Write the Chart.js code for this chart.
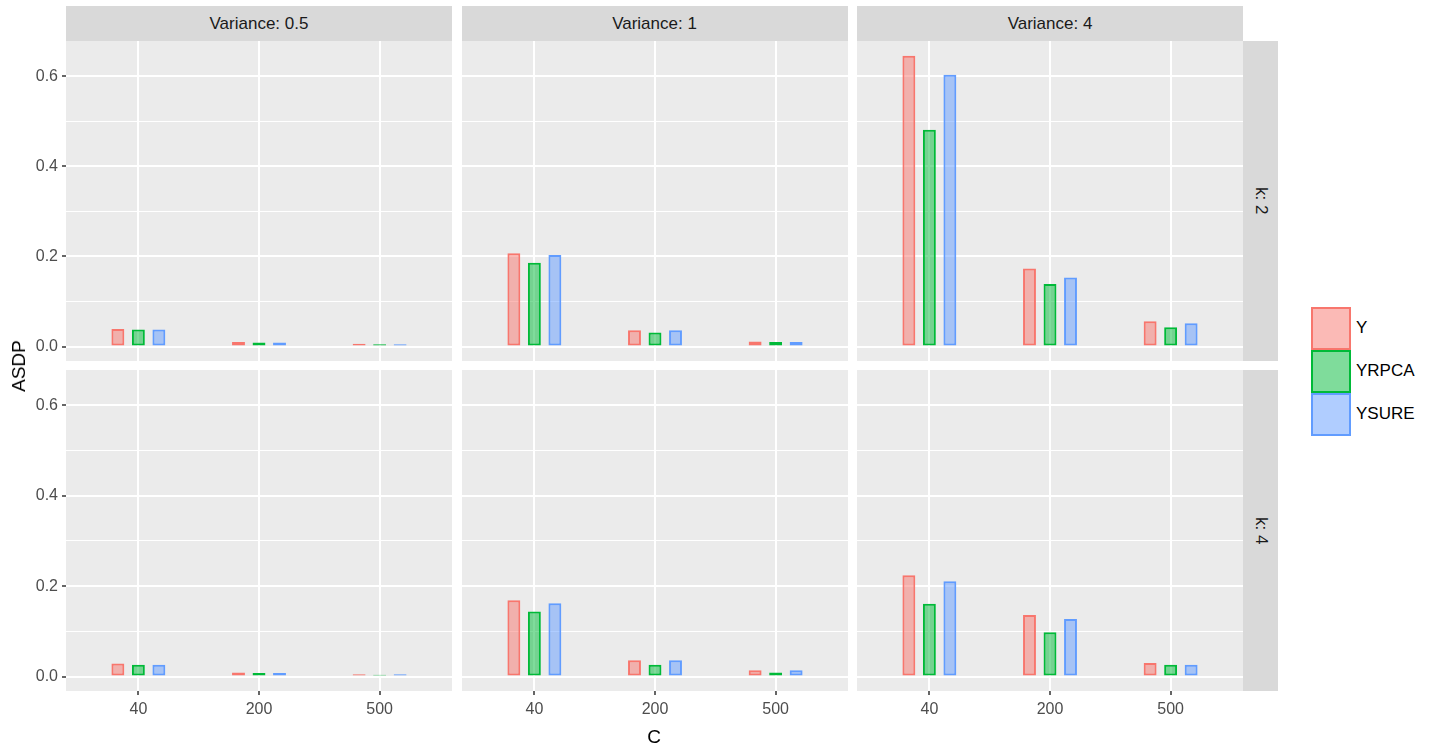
<!DOCTYPE html>
<html>
<head>
<meta charset="utf-8">
<script src="https://cdn.jsdelivr.net/npm/chart.js@4.4.1/dist/chart.umd.min.js"></script>
<style>
  body { margin: 0; background: #fff; font-family: "Liberation Sans", Arial, sans-serif; }
  #wrap { position: relative; width: 1431px; height: 747px; overflow: hidden; background: #fff; }
  canvas { position: absolute; }
  .strip { position: absolute; background: #D9D9D9; color: #1A1A1A; font-size: 17px;
           display: flex; align-items: center; justify-content: center; }
  .strip.right span { writing-mode: vertical-rl; }
  .title { position: absolute; color: #000; font-size: 19px; }
  .key { position: absolute; left: 1311px; width: 36px; height: 39px; border: 2px solid; }
  .klab { position: absolute; left: 1356px; font-size: 17px; color: #000; line-height: 20px; }
</style>
</head>
<body>
<div id="wrap"></div>
<script>
const categories  = ['40', '200', '500'];
const variances   = ['Variance: 0.5', 'Variance: 1', 'Variance: 4'];
const kLabels     = ['k: 2', 'k: 4'];
const seriesNames = ['Y', 'YRPCA', 'YSURE'];
const yTicks      = [0, 0.1, 0.2, 0.3, 0.4, 0.5, 0.6];

// ASDP, one inner array per variance panel, values for C = 40 / 200 / 500
const yK2     = [[0.039, 0.010, 0.006], [0.207, 0.036, 0.011], [0.645, 0.173, 0.056]];
const yrpcaK2 = [[0.038, 0.009, 0.005], [0.186, 0.031, 0.010], [0.481, 0.139, 0.043]];
const ysureK2 = [[0.038, 0.009, 0.005], [0.203, 0.036, 0.010], [0.603, 0.153, 0.052]];
const yK4     = [[0.029, 0.009, 0.005], [0.169, 0.036, 0.014], [0.224, 0.136, 0.030]];
const yrpcaK4 = [[0.026, 0.008, 0.004], [0.144, 0.026, 0.009], [0.161, 0.098, 0.026]];
const ysureK4 = [[0.026, 0.008, 0.005], [0.162, 0.036, 0.014], [0.211, 0.127, 0.026]];

const lineCols = ['#F8766D', '#00BA38', '#619CFF'];
const fillCols = ['rgba(248,118,109,0.5)', 'rgba(0,186,56,0.5)', 'rgba(97,156,255,0.5)'];

// panel geometry (px)
const COLX = [66, 461.5, 857];
const PW   = 386;
const ROWY = [41, 370];
const PH   = [320, 321];

const wrap = document.getElementById('wrap');

const panelBg = {
  id: 'panelBg',
  beforeDraw(chart) {
    const a = chart.chartArea, c = chart.ctx;
    c.save();
    c.fillStyle = '#EBEBEB';
    c.fillRect(a.left, a.top, a.right - a.left, a.bottom - a.top);
    c.restore();
  }
};

const isMajor = v => Math.round(v * 10) % 2 === 0;

// keep chart area exactly on the panel: no label overhang padding
function noPad(s) {
  s.paddingTop = 0; s.paddingBottom = 0;
  s.paddingLeft = 0; s.paddingRight = 0;
}

function makePanel(row, col) {
  const left = col === 0, bottom = row === 1;
  const padL = left ? 56 : 0, padB = bottom ? 40 : 0;
  const w = PW + padL, h = PH[row] + padB;
  const cv = document.createElement('canvas');
  cv.width = w; cv.height = h;
  cv.style.left = (COLX[col] - padL) + 'px';
  cv.style.top = ROWY[row] + 'px';
  cv.style.width = w + 'px'; cv.style.height = h + 'px';
  wrap.appendChild(cv);

  const src = row === 0 ? [yK2, yrpcaK2, ysureK2] : [yK4, yrpcaK4, ysureK4];

  new Chart(cv, {
    type: 'bar',
    data: {
      datasets: src.map((arr, s) => ({
        label: seriesNames[s],
        data: arr[col].map((v, i) => ({ x: i + 1, y: v })),
        backgroundColor: fillCols[s],
        borderColor: lineCols[s],
        borderWidth: 2,
        borderSkipped: false,
        categoryPercentage: 0.51,
        barPercentage: 0.63
      }))
    },
    options: {
      responsive: false,
      animation: false,
      devicePixelRatio: 1,
      layout: { padding: 0 },
      plugins: { legend: { display: false }, tooltip: { enabled: false } },
      scales: {
        x: {
          type: 'linear', min: 0.4, max: 3.6, offset: false,
          afterBuildTicks: s => { s.ticks = categories.map((c, i) => ({ value: i + 1 })); },
          afterFit: s => { s.height = padB; noPad(s); },
          border: { display: false },
          grid: { color: '#FFFFFF', lineWidth: 2, offset: false,
                  drawTicks: bottom, tickLength: 4, tickColor: '#333333', tickWidth: 1.5 },
          ticks: { display: bottom, padding: 5, color: '#4D4D4D', maxRotation: 0,
                   font: { family: '"Liberation Sans", Arial, sans-serif', size: 16 },
                   callback: v => categories[Math.round(v) - 1] }
        },
        y: {
          type: 'linear', min: -0.032, max: 0.678,
          afterBuildTicks: s => { s.ticks = yTicks.map(v => ({ value: v })); },
          afterFit: s => { s.width = padL; noPad(s); },
          border: { display: false },
          grid: { color: '#FFFFFF',
                  lineWidth: c => isMajor(c.tick.value) ? 2 : 1.1,
                  drawTicks: left, tickLength: 4, tickWidth: 1.5,
                  tickColor: c => isMajor(c.tick.value) ? '#333333' : 'rgba(0,0,0,0)' },
          ticks: { display: left, padding: 4, color: '#4D4D4D',
                   font: { family: '"Liberation Sans", Arial, sans-serif', size: 16 },
                   callback: v => isMajor(v) ? v.toFixed(1) : '' }
        }
      }
    },
    plugins: [panelBg]
  });
}

for (let r = 0; r < 2; r++) for (let c = 0; c < 3; c++) makePanel(r, c);

// strips
variances.forEach((t, c) => {
  const d = document.createElement('div');
  d.className = 'strip';
  Object.assign(d.style, { left: COLX[c] + 'px', top: '6px', width: PW + 'px', height: '35px' });
  d.textContent = t;
  wrap.appendChild(d);
});
kLabels.forEach((t, r) => {
  const d = document.createElement('div');
  d.className = 'strip right';
  Object.assign(d.style, { left: '1243px', top: ROWY[r] + 'px', width: '35px', height: PH[r] + 'px' });
  const sp = document.createElement('span');
  sp.textContent = t;
  d.appendChild(sp);
  wrap.appendChild(d);
});

// axis titles
const yt = document.createElement('div');
yt.className = 'title';
yt.textContent = 'ASDP';
Object.assign(yt.style, { left: '19px', top: '366px', transform: 'translate(-50%,-50%) rotate(-90deg)' });
wrap.appendChild(yt);
const xt = document.createElement('div');
xt.className = 'title';
xt.textContent = 'C';
Object.assign(xt.style, { left: '654px', top: '737px', transform: 'translate(-50%,-50%)' });
wrap.appendChild(xt);

// legend
seriesNames.forEach((n, s) => {
  const k = document.createElement('div');
  k.className = 'key';
  Object.assign(k.style, { top: (307 + s * 43) + 'px', background: fillCols[s], borderColor: lineCols[s] });
  wrap.appendChild(k);
  const l = document.createElement('div');
  l.className = 'klab';
  l.textContent = n;
  l.style.top = (318 + s * 43) + 'px';
  wrap.appendChild(l);
});
</script>
</body>
</html>
